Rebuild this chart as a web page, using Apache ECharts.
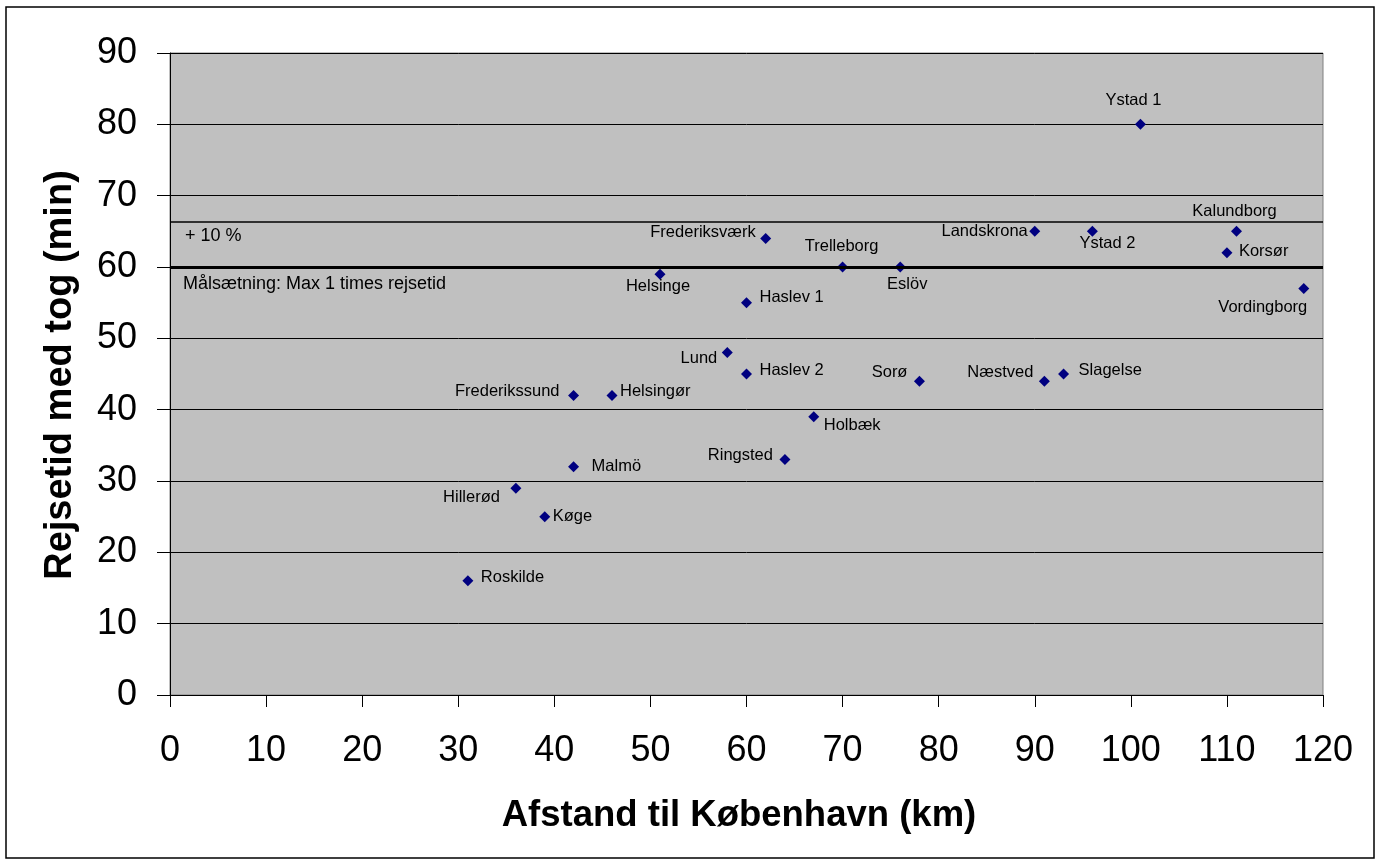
<!DOCTYPE html>
<html>
<head>
<meta charset="utf-8">
<script src="https://cdn.jsdelivr.net/npm/echarts@6/dist/echarts.min.js"></script>
<style>
  html, body { margin: 0; padding: 0; background: #fff; }
  #chart { width: 1378px; height: 865px; }
</style>
</head>
<body>
<div id="chart"></div>
<script>
// ---- Data ----
const cities = ['Ystad 1', 'Kalundborg', 'Korsør', 'Vordingborg', 'Ystad 2', 'Landskrona',
  'Eslöv', 'Trelleborg', 'Frederiksværk', 'Helsinge', 'Haslev 1', 'Lund', 'Haslev 2',
  'Frederikssund', 'Helsingør', 'Holbæk', 'Ringsted', 'Malmö', 'Hillerød', 'Køge',
  'Roskilde', 'Sorø', 'Næstved', 'Slagelse'];
const distanceKm = [101, 111, 110, 118, 96, 90, 76, 70, 62, 51, 60, 58, 60, 42, 46, 67, 64, 42, 36, 39, 31, 78, 91, 93];
const travelMin = [80, 65, 62, 57, 65, 65, 60, 60, 64, 59, 55, 48, 45, 42, 42, 39, 33, 32, 29, 25, 16, 44, 44, 45];
const targetMin = 60;       // Målsætning: Max 1 times rejsetid
const plusTenMin = 66.3;    // + 10 %
const xTicks = { min: 0, max: 120, interval: 10 };
const yTicks = { min: 0, max: 90, interval: 10 };

// ---- Label placement (style only): [align, dx, dy] relative to the point ----
const labelPlacement = {
  'Ystad 1': ['center', -7, -24], 'Kalundborg': ['center', -2, -20], 'Korsør': ['left', 12, -1],
  'Vordingborg': ['center', -41, 19], 'Ystad 2': ['center', 15, 12], 'Landskrona': ['right', -7, 0],
  'Eslöv': ['center', 7, 17], 'Trelleborg': ['center', -1, -21], 'Frederiksværk': ['right', -10, -6],
  'Helsinge': ['center', -2, 12], 'Haslev 1': ['left', 13, -5], 'Lund': ['right', -10, 6],
  'Haslev 2': ['left', 13, -4], 'Frederikssund': ['right', -14, -4], 'Helsingør': ['left', 8, -4],
  'Holbæk': ['left', 10, 9], 'Ringsted': ['right', -12, -4], 'Malmö': ['left', 18, 0],
  'Hillerød': ['right', -16, 9], 'Køge': ['left', 8, 0], 'Roskilde': ['left', 13, -3],
  'Sorø': ['right', -12, -9], 'Næstved': ['right', -11, -9], 'Slagelse': ['left', 15, -4]
};

const FONT = 'Liberation Sans, Arial, sans-serif';

const seriesData = cities.map((name, i) => {
  const p = labelPlacement[name];
  return {
    name: name,
    value: [distanceKm[i], travelMin[i]],
    label: {
      show: true,
      position: 'inside',
      align: p[0],
      verticalAlign: 'middle',
      offset: [p[1], p[2]]
    }
  };
});

const chart = echarts.init(document.getElementById('chart'));
chart.setOption({
  animation: false,
  backgroundColor: '#ffffff',
  grid: {
    left: 170, right: 55, top: 53, bottom: 170,
    show: true, backgroundColor: '#c0c0c0', borderColor: '#808080', borderWidth: 1
  },
  xAxis: {
    type: 'value',
    min: xTicks.min, max: xTicks.max, interval: xTicks.interval,
    axisLine: { show: true, onZero: false, lineStyle: { color: '#000', width: 1 } },
    axisTick: { show: true, length: 12, lineStyle: { color: '#000', width: 1 } },
    axisLabel: { fontSize: 36, color: '#000', fontFamily: FONT, margin: 38 },
    splitLine: { show: false }
  },
  yAxis: {
    type: 'value',
    min: yTicks.min, max: yTicks.max, interval: yTicks.interval,
    axisLine: { show: true, onZero: false, lineStyle: { color: '#000', width: 1 } },
    axisTick: { show: true, length: 13, lineStyle: { color: '#000', width: 1 } },
    axisLabel: { fontSize: 36, color: '#000', fontFamily: FONT, margin: 33 },
    splitLine: { show: true, lineStyle: { color: '#000', width: 1 } }
  },
  series: [{
    type: 'scatter',
    symbol: 'diamond',
    symbolSize: 11,
    itemStyle: { color: '#000080', opacity: 1 },
    label: {
      show: true,
      formatter: '{b}',
      color: '#000000',
      textBorderWidth: 0,
      fontSize: 16.5,
      fontFamily: FONT
    },
    emphasis: { disabled: true },
    data: seriesData,
    markLine: {
      silent: true,
      symbol: ['none', 'none'],
      label: { show: false },
      data: [
        { yAxis: targetMin, lineStyle: { color: '#000', width: 3, type: 'solid', opacity: 1 } },
        { yAxis: plusTenMin, lineStyle: { color: '#000', width: 1.5, type: 'solid', opacity: 1 } }
      ]
    }
  }],
  graphic: [
    {
      type: 'rect', silent: true,
      shape: { x: 6, y: 7, width: 1368, height: 851 },
      style: { fill: 'none', stroke: '#000', lineWidth: 1.5 }
    },
    {
      type: 'text', silent: true, x: 185, y: 236,
      style: { text: '+ 10 %', fontSize: 18, fontFamily: FONT, fill: '#000', textAlign: 'left', textVerticalAlign: 'middle' }
    },
    {
      type: 'text', silent: true, x: 183, y: 284,
      style: { text: 'Målsætning: Max 1 times rejsetid', fontSize: 18, fontFamily: FONT, fill: '#000', textAlign: 'left', textVerticalAlign: 'middle' }
    },
    {
      type: 'text', silent: true, x: 739, y: 816,
      style: { text: 'Afstand til København (km)', fontSize: 36.5, fontWeight: 'bold', fontFamily: FONT, fill: '#000', textAlign: 'center', textVerticalAlign: 'middle' }
    },
    {
      type: 'text', silent: true, x: 61, y: 375, rotation: Math.PI / 2,
      style: { text: 'Rejsetid med tog (min)', fontSize: 38, fontWeight: 'bold', fontFamily: FONT, fill: '#000', textAlign: 'center', textVerticalAlign: 'middle' }
    }
  ]
});
</script>
</body>
</html>
